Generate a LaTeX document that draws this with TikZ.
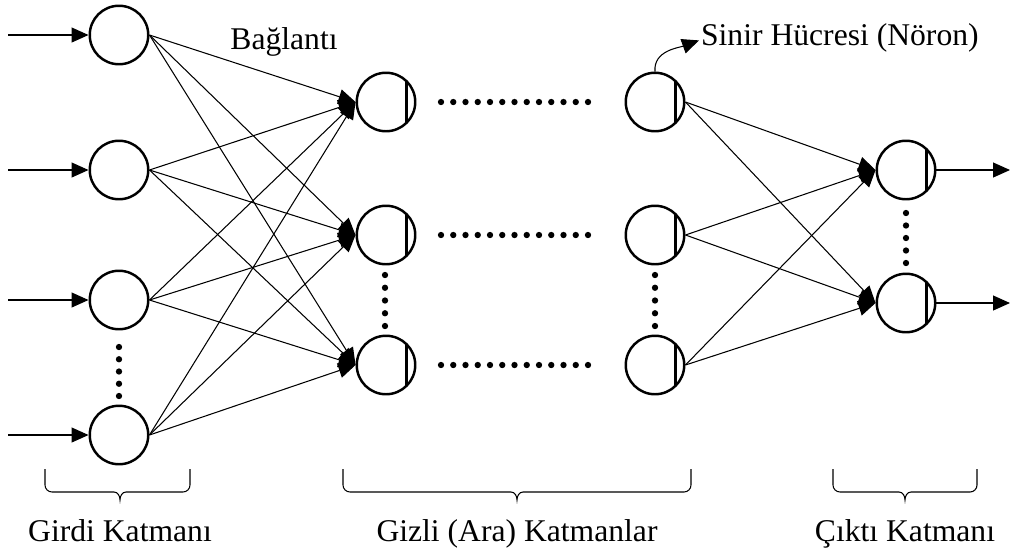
\documentclass[tikz,border=0pt]{standalone}
\usepackage{fontspec}
\setmainfont{Liberation Serif}
\usetikzlibrary{arrows.meta}

\begin{document}
\begin{tikzpicture}[
  x=0.02cm,y=-0.02cm,
  font=\fontsize{18}{21}\selectfont,
  nrn/.style={circle,draw,line width=1.4pt,minimum size=1.17cm,inner sep=0pt},
  cell/.style={nrn,path picture={\draw[line width=1.2pt]
      ([xshift=0.41cm,yshift=0.7cm]path picture bounding box.center) --
      ([xshift=0.41cm,yshift=-0.7cm]path picture bounding box.center);}},
  lnk/.style={-{Triangle[length=0.34cm,width=0.3cm]},line width=0.6pt},
  brc/.style={line width=0.6pt},
  dotmark/.style={fill=black}]

\useasboundingbox (0,0) rectangle (1014,552);

% ------------------------------- layers -----------------------------------
\foreach \i/\y in {1/35,2/170,3/300,4/435}{
  \node[nrn] (i\i) at (119,\y) {};
  \coordinate (in\i) at (8,\y);
}
\foreach \i/\y in {1/102,2/235,3/365}{
  \node[cell] (a\i) at (386,\y) {};
  \node[cell] (b\i) at (655,\y) {};
}
\node[cell] (o1) at (906,170) {};
\node[cell] (o2) at (906,303) {};
\coordinate (out1) at (1010,170);
\coordinate (out2) at (1010,303);

% ----------------------------- connections --------------------------------
\foreach \i in {1,...,4} \draw[lnk] (in\i) -- (i\i);
\foreach \i in {1,...,4}
  \foreach \k in {1,2,3} \draw[lnk] (i\i.east) -- (a\k.west);
\foreach \i in {1,2,3}
  \foreach \k in {1,2} \draw[lnk] (b\i.east) -- (o\k.west);
\foreach \k in {1,2} \draw[lnk] (o\k) -- (out\k);

% -------------------------------- dots ------------------------------------
\foreach \y in {102,235,365}
  \foreach \k in {0,...,12} \fill[dotmark] (441+12.25*\k,\y) circle[radius=1.8pt];
\foreach \k in {0,...,4}{
  \fill[dotmark] (119,347+12.25*\k) circle[radius=1.8pt];
  \fill[dotmark] (385,275+12.75*\k) circle[radius=1.8pt];
  \fill[dotmark] (655,275+12.75*\k) circle[radius=1.8pt];
  \fill[dotmark] (906,213+12.5*\k) circle[radius=1.8pt];
}

% ------------------------------- labels -----------------------------------
\node[anchor=base] (bag) at (284,49) {Bağlantı};
\node[anchor=base west,inner sep=1pt] (nrnlbl) at (699,45) {Sinir Hücresi (Nöron)};
\draw[lnk] (b1.north) to[out=95,in=200] ([yshift=-0.06cm]nrnlbl.west);

% ------------------------------- braces -----------------------------------
\foreach \xa/\xm/\xb/\name/\txt in {45/120/190/gk/Girdi Katmanı,
    343/517/691/hk/Gizli (Ara) Katmanlar,833/905/977/ck/Çıktı Katmanı}{
  \draw[brc] (\xa,469) -- (\xa,485) to[out=-90,in=180] (\xa+7,492)
    -- (\xm-6,492) to[out=0,in=90] (\xm,500) to[out=90,in=180] (\xm+6,492)
    -- (\xb-7,492) to[out=0,in=-90] (\xb,485) -- (\xb,469);
  \node[anchor=base] (\name) at (\xm,541) {\txt};
}
\end{tikzpicture}
\end{document}
